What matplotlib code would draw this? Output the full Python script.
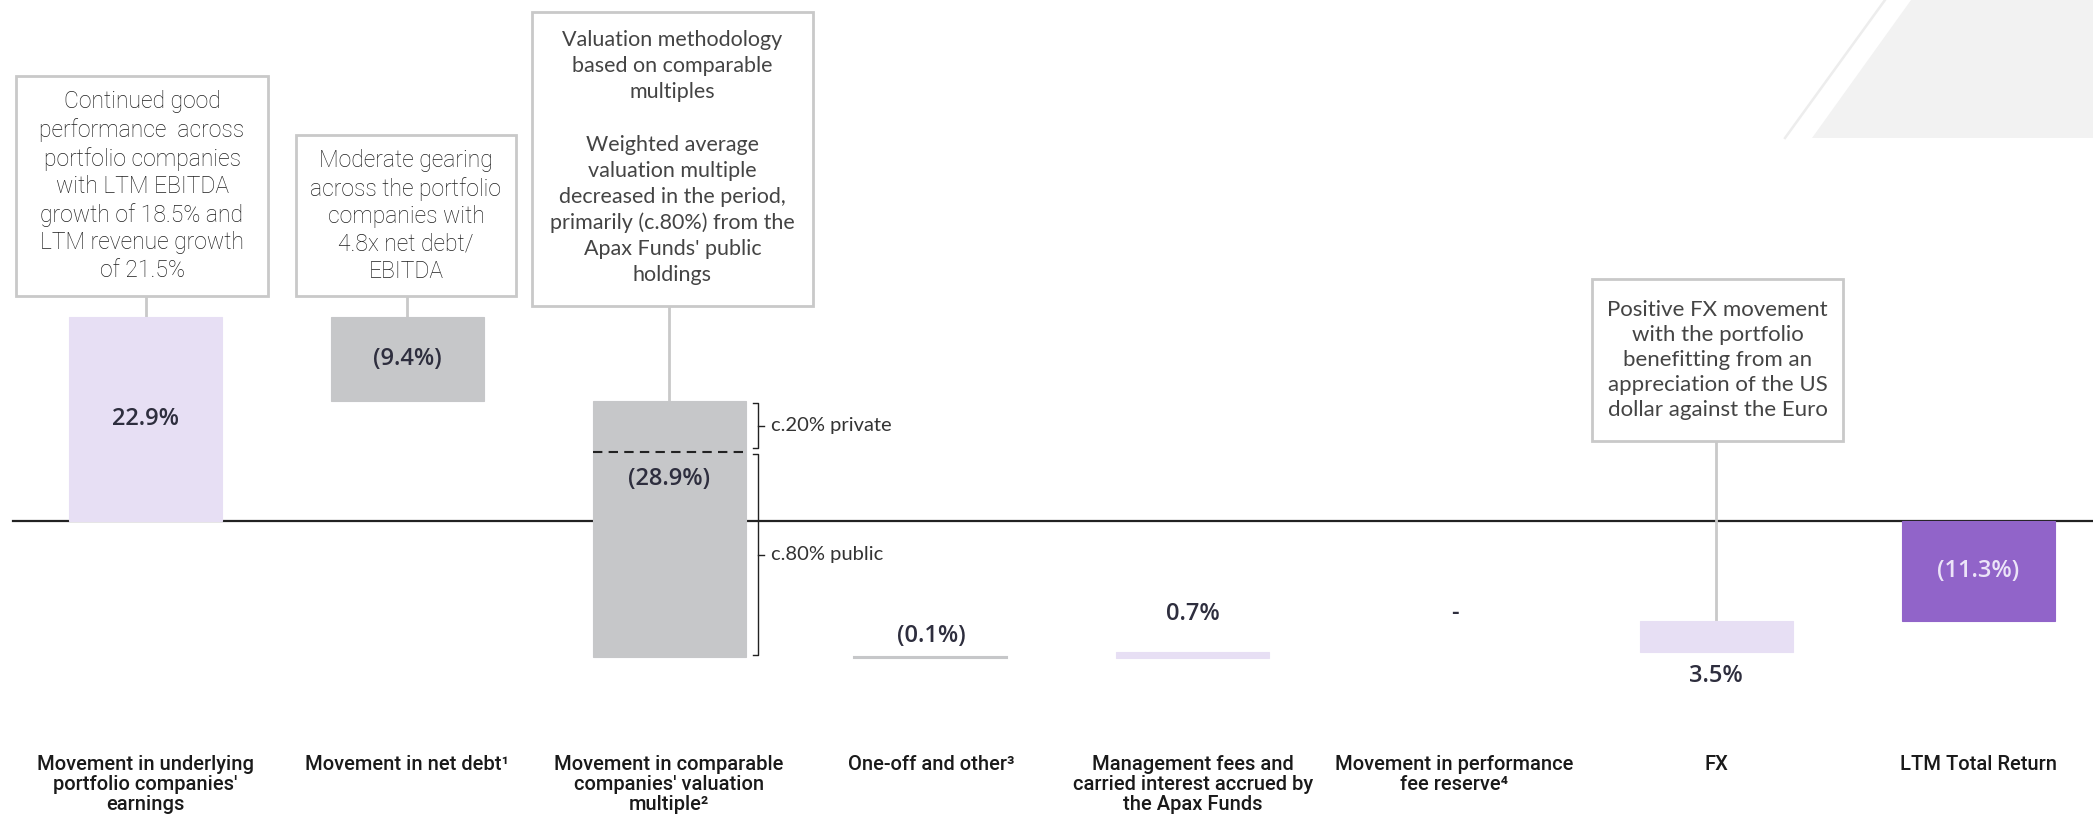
import numpy as np
import matplotlib.pyplot as plt
from matplotlib.patches import Rectangle, Polygon

# 데이터
categories = [
    "Movement in underlying\nportfolio companies'\nearnings",
    "Movement in net debt\u00b9",
    "Movement in comparable\ncompanies' valuation\nmultiple\u00b2",
    "One-off and other\u00b3",
    "Management fees and\ncarried interest accrued by\nthe Apax Funds",
    "Movement in performance\nfee reserve\u2074",
    "FX",
    "LTM Total Return",
]
values = [22.9, -9.4, -28.9, -0.1, 0.7, 0.0, 3.5]
total = -11.3
value_labels = ["22.9%", "(9.4%)", "(28.9%)", "(0.1%)", "0.7%", "-", "3.5%", "(11.3%)"]
private_share = 0.2

notes = [
    (0, ["Continued good\nperformance  across\nportfolio companies\nwith LTM EBITDA\ngrowth of 18.5% and\nLTM revenue growth\nof 21.5%"]),
    (1, ["Moderate gearing\nacross the portfolio\ncompanies with\n4.8x net debt/\nEBITDA"]),
    (2, ["Valuation methodology\nbased on comparable\nmultiples",
         "Weighted average\nvaluation multiple\ndecreased in the period,\nprimarily (c.80%) from the\nApax Funds' public\nholdings"]),
    (6, ["Positive FX movement\nwith the portfolio\nbenefitting from an\nappreciation of the US\ndollar against the Euro"]),
]

# 색상
LAV = '#e7dff4'
GRAY = '#c6c7c9'
PURPLE = '#9164c9'
TXT = '#2e2e3e'
BOX = '#c9c9c9'

W, H = 2093, 823
fig = plt.figure(figsize=(W / 100, H / 100), dpi=100)
ax = fig.add_axes([0, 0, 1, 1])
ax.axis('off')

# 픽셀 -> 데이터 좌표
step, x0 = 261.8, 145.5
ppu, y0 = 8.87, 520.5
ax.set_xlim(-x0 / step, (W - x0) / step)
ax.set_ylim(-(H - y0) / ppu, y0 / ppu)

def px2x(px):
    return (px - x0) / step

def px2y(py):
    return (y0 - py) / ppu

# 배경 장식
fig.add_artist(Polygon([(1911 / W, 1), (1, 1), (1, 1 - 138 / H), (1812 / W, 1 - 138 / H)],
                       closed=True, facecolor='#f2f2f2', edgecolor='none', transform=fig.transFigure))
fig.add_artist(plt.Line2D([1885 / W, 1785 / W], [1, 1 - 138 / H], color='#ededed', lw=1.8,
                          transform=fig.transFigure))

# 워터폴 계산
n = len(values)
cum = np.concatenate([[0], np.cumsum(values)])
bottoms = list(cum[:-1]) + [0]
heights = list(values) + [total]
colors = [LAV if v > 0 else GRAY for v in values] + [PURPLE]
xs = np.arange(n + 1)
bw = 0.584
edge_w = [0 if h == 0 else (1.5 if abs(h) < 0.5 else 0.8) for h in heights]

ax.plot([px2x(13), px2x(W)], [0, 0], color='#222222', lw=1.6, zorder=1)
ax.bar(xs, heights, bottom=bottoms, width=bw, color=colors, edgecolor=colors, linewidth=edge_w, zorder=2)

# 비공개/공개 구분선
top3 = bottoms[2]
split = top3 + values[2] * private_share
bot3 = top3 + values[2]
ax.plot([2 - bw / 2, 2 + bw / 2], [split, split], color='#222222', lw=1.5, ls=(0, (4.5, 3)), zorder=3)

# 중괄호
def brace(y_top, y_bot, label):
    xv = px2x(758)
    xl = px2x(753)
    xr = px2x(764)
    ym = (y_top + y_bot) / 2
    ax.plot([xl, xv, xv, xl], [y_top, y_top, y_bot, y_bot], color='#222222', lw=1.0)
    ax.plot([xv, xr], [ym, ym], color='#222222', lw=1.0)
    ax.text(px2x(771), ym, label, ha='left', va='center', fontsize=14.5, color='#333333',
            family=['Lato', 'DejaVu Sans'])

brace(top3 - 0.2, split + 0.4, "c.20% private")
brace(split - 0.2, bot3 + 0.2, "c.80% public")

# 값 라벨 (픽셀 오프셋)
label_dy = [0, 0, -50, -22, -41, -39, 40, 0]
for i, lab in enumerate(value_labels):
    yc = bottoms[i] + heights[i] / 2
    ax.text(xs[i], yc - label_dy[i] / ppu, lab, ha='center', va='center', fontsize=17,
            color='#ece4f8' if i == n else TXT, weight='semibold',
            family=['Open Sans', 'DejaVu Sans'], zorder=4)

# 주석 박스 (픽셀 영역, 문단 중심 y)
box_px = {0: (16, 76, 268, 296), 1: (296, 135, 516, 296), 2: (532, 12, 813, 306), 6: (1592, 279, 1843, 441)}
para_y = {0: [186], 1: [216], 2: [66, 210], 6: [360]}
box_font = {0: (['Roboto', 'DejaVu Sans'], 16.5, 1.25, 'light', '#1e1e1e'),
            1: (['Roboto', 'DejaVu Sans'], 16.5, 1.25, 'light', '#1e1e1e'),
            2: (['Lato', 'DejaVu Sans'], 15.5, 1.36, 'normal', '#444444'),
            6: (['Lato', 'DejaVu Sans'], 16, 1.3, 'normal', '#444444')}
for i, paras in notes:
    l, t, r, b = box_px[i]
    ax.add_patch(Rectangle((px2x(l), px2y(b)), px2x(r) - px2x(l), px2y(t) - px2y(b),
                           facecolor='white', edgecolor=BOX, lw=2, zorder=5))
    fam, fs, ls, wt, col = box_font[i]
    for txt, py in zip(paras, para_y[i]):
        ax.text((px2x(l) + px2x(r)) / 2, px2y(py), txt, ha='center', va='center',
                fontsize=fs, linespacing=ls, color=col, family=fam, weight=wt, zorder=6)
    bar_top = max(bottoms[i], bottoms[i] + heights[i])
    ax.plot([xs[i], xs[i]], [px2y(b), bar_top], color=BOX, lw=2, zorder=1.5)

# 카테고리 라벨
for i, c in enumerate(categories):
    ax.text(xs[i], px2y(755), c, ha='center', va='top', fontsize=14.5, linespacing=1.05,
            color='#1a1a1a', family=['Roboto', 'DejaVu Sans'], weight='medium')

fig.savefig('out.png', dpi=100, facecolor='white')
